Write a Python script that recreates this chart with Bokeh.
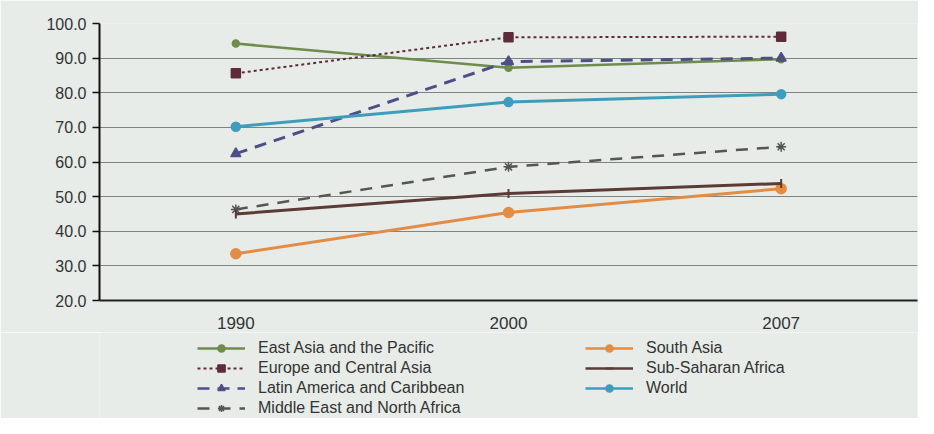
from bokeh.plotting import figure
from bokeh.layouts import column
from bokeh.models import (Legend, LegendItem, FixedTicker, ColumnDataSource,
                          PrintfTickFormatter, Range1d, FactorRange)
from bokeh.embed import file_html
from bokeh.resources import INLINE

years = ["1990", "2000", "2007"]
y_ticks = [20, 30, 40, 50, 60, 70, 80, 90, 100]

east_asia = [94.2, 87.2, 89.7]
europe = [85.6, 96.0, 96.2]
latin_america = [62.4, 89.0, 90.0]
middle_east = [46.3, 58.6, 64.4]
south_asia = [33.5, 45.4, 52.3]
sub_saharan = [45.0, 50.9, 53.8]
world = [70.2, 77.3, 79.6]

BG = "#e7ece9"
FONT = "Liberation Sans"
TXT = "#333333"

p = figure(x_range=years, y_range=(20, 100), width=918, height=332,
           output_backend="svg", toolbar_location=None,
           min_border_left=99, min_border_right=1, min_border_top=23, min_border_bottom=32)
p.background_fill_color = BG
p.border_fill_color = BG
p.outline_line_color = None

p.xgrid.grid_line_color = None
p.ygrid.grid_line_color = "#7f8481"
p.ygrid.grid_line_width = 1

p.yaxis.ticker = FixedTicker(ticks=y_ticks)
p.yaxis.formatter = PrintfTickFormatter(format="%.1f")
p.yaxis.axis_line_color = "#111111"
p.yaxis.axis_line_width = 2
p.yaxis.major_tick_line_color = "#111111"
p.yaxis.major_tick_line_width = 1.5
p.yaxis.major_tick_out = 7
p.yaxis.major_tick_in = 0
p.yaxis.minor_tick_line_color = None
p.yaxis.major_label_text_font = FONT
p.yaxis.major_label_text_font_size = "16px"
p.yaxis.major_label_text_color = TXT
p.yaxis.major_label_standoff = 6

p.xaxis.axis_line_color = "#222222"
p.xaxis.axis_line_width = 2
p.xaxis.major_tick_line_color = None
p.xaxis.major_label_text_font = FONT
p.xaxis.major_label_text_font_size = "17px"
p.xaxis.major_label_text_color = TXT
p.xaxis.major_label_standoff = 10

series = [
    ("East Asia and the Pacific", east_asia, "#6e8c4c", "solid", 2.5, "circle", 7),
    ("Europe and Central Asia", europe, "#5e2c38", "3 3", 2, "square", 9),
    ("Latin America and Caribbean", latin_america, "#4d4f86", "12 8", 3, "triangle", 10),
    ("Middle East and North Africa", middle_east, "#555555", "12 9", 2.5, "asterisk", 10),
    ("South Asia", south_asia, "#e38c45", "solid", 3, "circle", 10),
    ("Sub-Saharan Africa", sub_saharan, "#5c3a36", "solid", 3, "dash", 9),
    ("World", world, "#3f9dbc", "solid", 3, "circle", 9),
]

# legend panel below the chart (its series lie outside its visible range)
lp = figure(width=918, height=86, output_backend="svg", toolbar_location=None,
            x_range=FactorRange(*years), y_range=Range1d(1000, 1001),
            x_axis_location=None, y_axis_location=None,
            min_border_left=0, min_border_right=0, min_border_top=0, min_border_bottom=0)
lp.background_fill_color = BG
lp.border_fill_color = BG
lp.outline_line_color = None
lp.xgrid.grid_line_color = None
lp.ygrid.grid_line_color = None

def add_series(fig, xs, ys, color, dash, lw, marker, size):
    src = ColumnDataSource(dict(x=xs, y=ys))
    r1 = fig.line("x", "y", source=src, line_color=color, line_width=lw, line_dash=dash)
    if marker == "dash":
        r2 = fig.scatter("x", "y", source=src, marker="dash", angle=1.5708, size=size,
                         line_color=color, line_width=2)
    else:
        r2 = fig.scatter("x", "y", source=src, marker=marker, size=size,
                         fill_color=color, line_color=color, line_width=1.5)
    return r1, r2

items = []
for name, vals, color, dash, lw, marker, size in series:
    add_series(p, years, vals, color, dash, lw, marker, size)
    r1, r2 = add_series(lp, years, vals, color, dash, min(lw, 2.5), marker, max(size - 3, 5))
    items.append(LegendItem(label=name, renderers=[r1, r2]))

def make_legend(its, loc):
    return Legend(items=its, location=loc, orientation="vertical",
                  background_fill_alpha=0, border_line_color=None,
                  padding=0, margin=0, spacing=2,
                  glyph_width=48, glyph_height=18, label_height=18,
                  label_standoff=13,
                  label_text_font=FONT, label_text_font_size="16px",
                  label_text_color=TXT)

lp.add_layout(make_legend(items[:4], (98, 1)), "center")
lp.add_layout(make_legend(items[4:], (486, 21)), "center")

layout = column(p, lp, spacing=0)
open("out.html", "w").write(file_html(layout, INLINE))
